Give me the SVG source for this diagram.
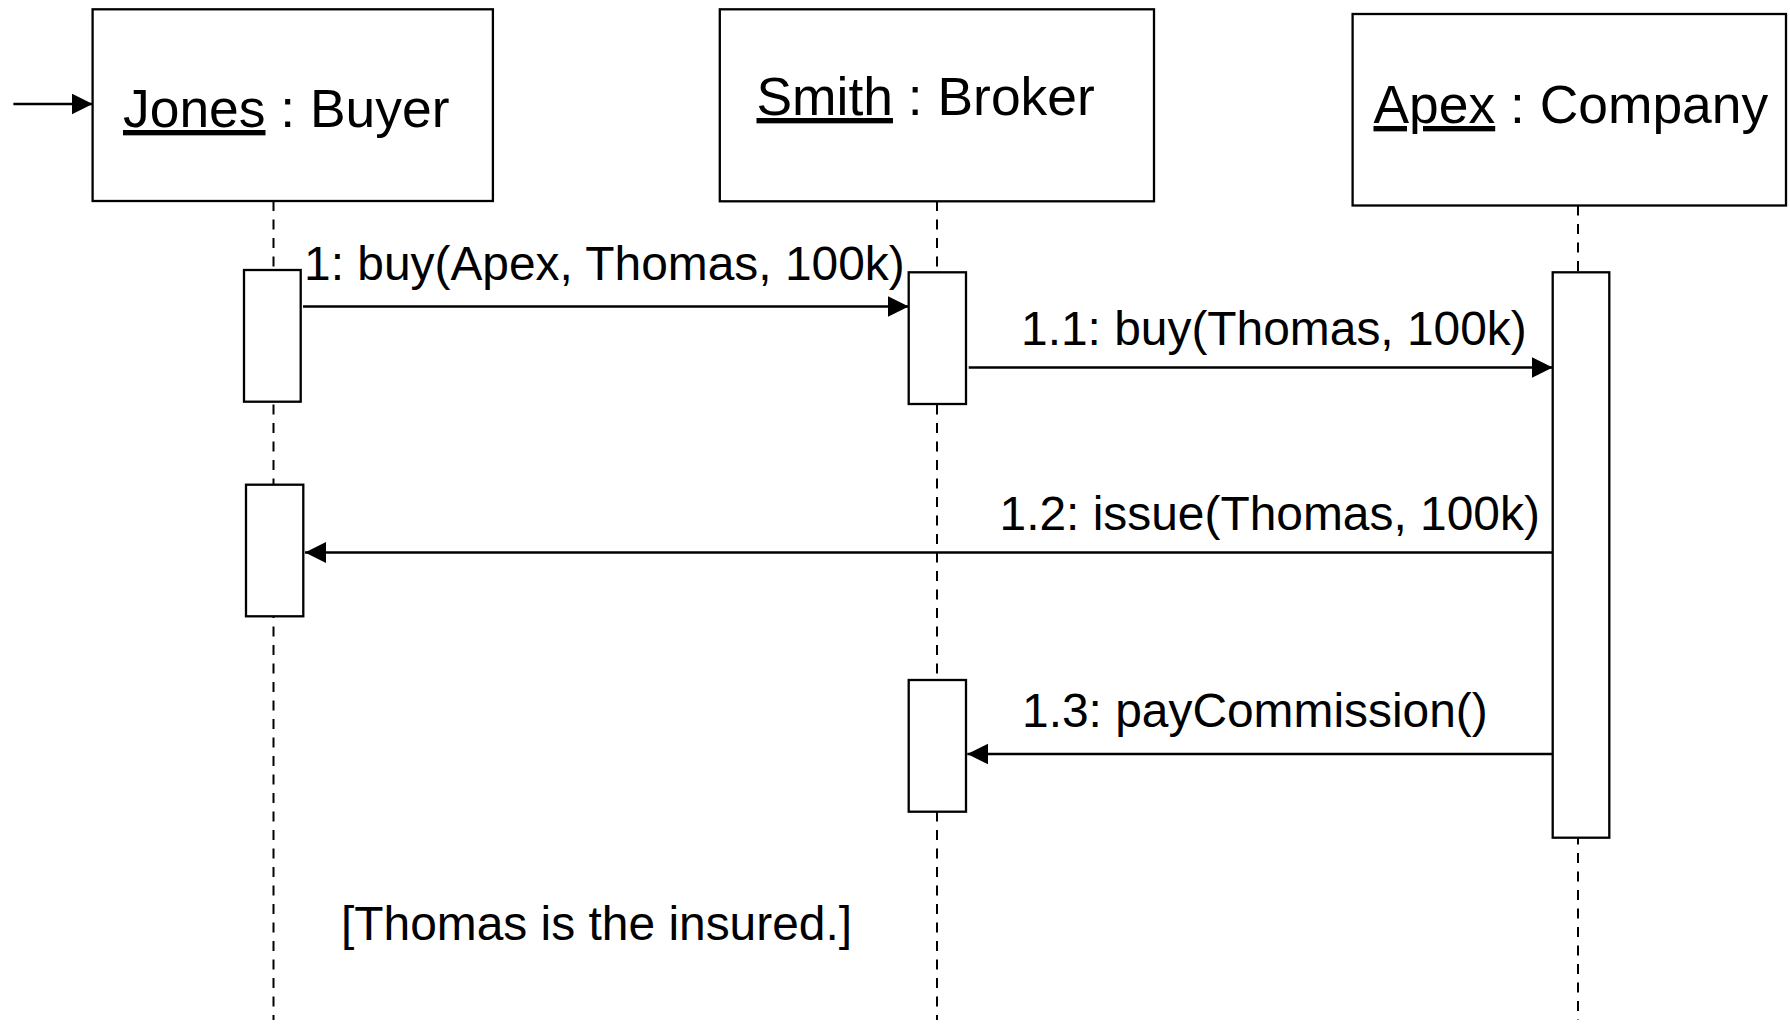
<svg xmlns="http://www.w3.org/2000/svg" width="1790" height="1027" viewBox="0 0 1790 1027">
<style>
.box{fill:#fff;stroke:#000;stroke-width:2.3}
.act{fill:#fff;stroke:#000;stroke-width:2.3}
.life{stroke:#000;stroke-width:2;stroke-dasharray:10 8.5;fill:none}
.msg{stroke:#000;stroke-width:2.3;fill:none;marker-end:url(#arr)}
.hdr{font-family:"Liberation Sans",Arial,Helvetica,sans-serif;font-size:53.4px;fill:#000}
.lbl{font-family:"Liberation Sans",Arial,Helvetica,sans-serif;font-size:47.9px;fill:#000}
.u{text-decoration:underline}
</style>
<defs>
<marker id="arr" markerUnits="userSpaceOnUse" markerWidth="22" markerHeight="22" refX="21" refY="10.5" orient="auto">
<path d="M0,0 L21,10.5 L0,21 z" fill="#000"/>
</marker>
</defs>
<rect width="1790" height="1027" fill="#fff"/>
<g id="lifelines">
<line class="life" x1="273.5" y1="201" x2="273.5" y2="1020"/>
<line class="life" x1="937" y1="201" x2="937" y2="1020"/>
<line class="life" x1="1578" y1="205.5" x2="1578" y2="1020"/>
</g>
<g id="jones">
<rect class="box" x="92.6" y="9.3" width="400.3" height="191.7"/>
<text class="hdr" x="123" y="127"><tspan class="u">Jones</tspan> : Buyer</text>
</g>
<g id="smith">
<rect class="box" x="719.8" y="9.3" width="434.2" height="192"/>
<text class="hdr" x="756.5" y="115"><tspan class="u">Smith</tspan> : Broker</text>
</g>
<g id="apex">
<rect class="box" x="1352.6" y="14" width="433.4" height="191.5"/>
<text class="hdr" x="1373.5" y="123"><tspan class="u">Apex</tspan> : Company</text>
</g>
<g id="activations">
<rect class="act" x="244" y="270" width="56.7" height="131.7"/>
<rect class="act" x="908.7" y="272.3" width="57.3" height="131.7"/>
<rect class="act" x="1552.7" y="272.3" width="56.6" height="565.4"/>
<rect class="act" x="246" y="484.7" width="57.3" height="131.6"/>
<rect class="act" x="908.7" y="680" width="57.3" height="131.7"/>
</g>
<g id="connectors">
<line class="msg" x1="13.4" y1="104" x2="92.6" y2="104"/>
<line class="msg" x1="303" y1="306.5" x2="908.7" y2="306.5"/>
<line class="msg" x1="968.7" y1="367.5" x2="1552.7" y2="367.5"/>
<line class="msg" x1="1552.7" y1="552.5" x2="305" y2="552.5"/>
<line class="msg" x1="1552.7" y1="754" x2="967.3" y2="754"/>
</g>
<g id="labels">
<text class="lbl" x="304" y="280">1: buy(Apex, Thomas, 100k)</text>
<text class="lbl" x="1021" y="345">1.1: buy(Thomas, 100k)</text>
<text class="lbl" x="999.5" y="530">1.2: issue(Thomas, 100k)</text>
<text class="lbl" x="1022" y="727">1.3: payCommission()</text>
<text class="lbl" x="341" y="940">[Thomas is the insured.]</text>
</g>
</svg>
